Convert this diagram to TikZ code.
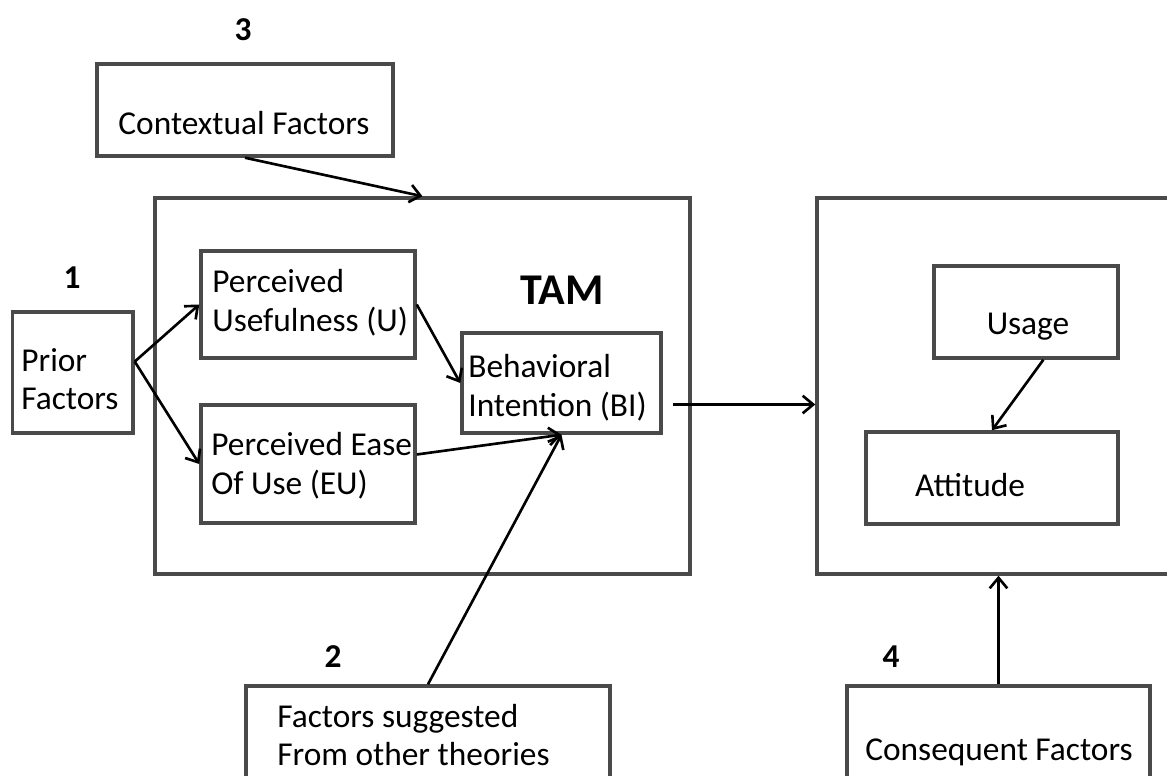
\documentclass[tikz,border=0pt]{standalone}
\usepackage{fontspec}
\setmainfont{Carlito}
\usepackage{tikz}
\usetikzlibrary{arrows.meta}

\definecolor{boxgray}{HTML}{4A4A4A}

\tikzset{
    box/.style={draw=boxgray, line width=2pt, inner sep=0pt},
    arr/.style={line width=1.5pt, -{Straight Barb[length=6pt,width=10pt]}},
    lbl/.style={inner sep=0pt, align=left, font=\fontsize{19}{22}\selectfont},
    num/.style={inner sep=0pt, font=\fontsize{19}{22}\selectfont\bfseries},
}

\begin{document}
\begin{tikzpicture}[x=0.02cm, y=-0.02cm]
            \clip (0,0) rectangle (1167,776);

            \node[box, minimum width=5.92cm, minimum height=1.84cm] (ctx) at (245,110) {};
            \node[lbl] (ctxt) at (244,123) {Contextual Factors};
            \node[num] (n3) at (243,30) {3};

            \node[box, minimum width=10.7cm, minimum height=7.52cm] (tam) at (422.5,386) {};
            \node[inner sep=0pt, font=\fontsize{25}{30}\selectfont\bfseries] (tamt) at (562,290) {TAM};

            \node[box, minimum width=2.41cm, minimum height=2.42cm] (prior) at (72.75,372.5) {};
            \node[lbl, anchor=west] (priort) at (21,379) {Prior\\Factors};
            \node[num] (n1) at (72,278) {1};

            \node[box, minimum width=4.28cm, minimum height=2.14cm] (pu) at (308,304.5) {};
            \node[lbl, anchor=west] (put) at (212,302.5) {Perceived\\Usefulness (U)};

            \node[box, minimum width=4.28cm, minimum height=2.36cm] (peu) at (308,464) {};
            \node[lbl, anchor=west] (peut) at (211,466) {Perceived Ease\\Of Use (EU)};

            \node[box, minimum width=3.98cm, minimum height=2.0cm] (bi) at (561.5,383) {};
            \node[lbl, anchor=west] (bit) at (468,387.5) {Behavioral\\Intention (BI)};

            \node[box, minimum width=7.66cm, minimum height=7.52cm] (outbox) at (1008.5,386) {};

            \node[box, minimum width=3.68cm, minimum height=1.84cm] (usage) at (1026,312) {};
            \node[lbl] (usaget) at (1028,327) {Usage};

            \node[box, minimum width=5.04cm, minimum height=1.84cm] (att) at (992,478) {};
            \node[lbl] (attt) at (970,485) {Attitude};

            \node[box, minimum width=7.28cm, minimum height=2.28cm] (other) at (428,743) {};
            \node[lbl, anchor=west] (othert) at (277,735) {Factors suggested\\From other theories};
            \node[num] (n2) at (333,657) {2};

            \node[box, minimum width=6.06cm, minimum height=2.28cm] (cons) at (998.5,743) {};
            \node[lbl] (const) at (999,752) {Consequent Factors};
            \node[num] (n4) at (891,657) {4};

            \draw[arr] (ctx.south) -- (tam.north); % ctx-tam
            \draw[arr] (prior.10) -- (pu.west); % prior-pu
            \draw[arr] (prior.10) -- (peu.west); % prior-peu
            \draw[arr] (pu.east) -- (bi.west); % pu-bi
            \draw[arr] (peu.5) -- (bi.south); % peu-bi
            \draw[arr] (other.north) -- (bi.south); % other-bi
            \draw[arr, shorten <=6pt] (bi.-12) -- (bi.-12 -| outbox.west); % bi-outbox
            \draw[arr] (usage.-70) -- (att.north); % usage-att
            \draw[arr] (cons.north) -- (cons.north |- outbox.south); % cons-outbox
        \end{tikzpicture}
\end{document}
